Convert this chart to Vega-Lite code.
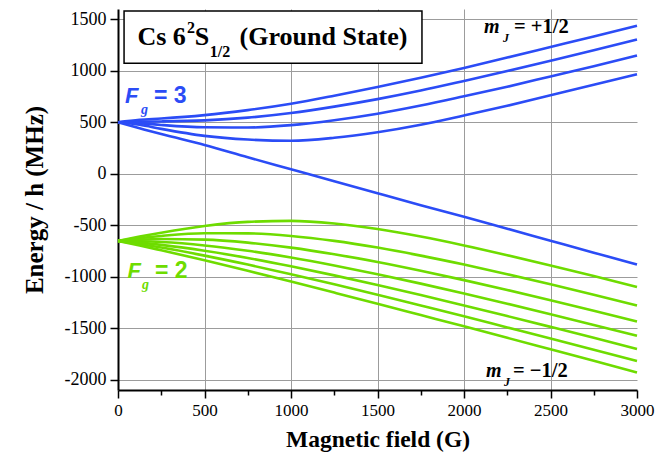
{
  "$schema": "https://vega.github.io/schema/vega-lite/v6.json",
  "width": 519,
  "height": 381,
  "autosize": "none",
  "padding": {"left": 118, "top": 9, "right": 34, "bottom": 70},
  "background": "white",
  "config": {"view": {"stroke": null}, "font": "Liberation Serif"},
  "layer": [
    {
      "data": {"values": [
        {"s":"u1","grp":"up","B":0,"E":500},{"s":"u1","grp":"up","B":125,"E":524},{"s":"u1","grp":"up","B":250,"E":536},{"s":"u1","grp":"up","B":500,"E":569},{"s":"u1","grp":"up","B":750,"E":618},{"s":"u1","grp":"up","B":1000,"E":680},{"s":"u1","grp":"up","B":1250,"E":758},{"s":"u1","grp":"up","B":1500,"E":842},{"s":"u1","grp":"up","B":1750,"E":933},{"s":"u1","grp":"up","B":2000,"E":1028},{"s":"u1","grp":"up","B":2250,"E":1128},{"s":"u1","grp":"up","B":2500,"E":1231},{"s":"u1","grp":"up","B":2750,"E":1334},{"s":"u1","grp":"up","B":3000,"E":1438},
        {"s":"u2","grp":"up","B":0,"E":500},{"s":"u2","grp":"up","B":125,"E":506},{"s":"u2","grp":"up","B":250,"E":508},{"s":"u2","grp":"up","B":500,"E":518},{"s":"u2","grp":"up","B":750,"E":545},{"s":"u2","grp":"up","B":1000,"E":590},{"s":"u2","grp":"up","B":1250,"E":652},{"s":"u2","grp":"up","B":1500,"E":725},{"s":"u2","grp":"up","B":1750,"E":808},{"s":"u2","grp":"up","B":2000,"E":901},{"s":"u2","grp":"up","B":2250,"E":997},{"s":"u2","grp":"up","B":2500,"E":1098},{"s":"u2","grp":"up","B":2750,"E":1200},{"s":"u2","grp":"up","B":3000,"E":1304},
        {"s":"u3","grp":"up","B":0,"E":500},{"s":"u3","grp":"up","B":125,"E":492},{"s":"u3","grp":"up","B":250,"E":474},{"s":"u3","grp":"up","B":500,"E":451},{"s":"u3","grp":"up","B":750,"E":449},{"s":"u3","grp":"up","B":1000,"E":472},{"s":"u3","grp":"up","B":1250,"E":520},{"s":"u3","grp":"up","B":1500,"E":583},{"s":"u3","grp":"up","B":1750,"E":662},{"s":"u3","grp":"up","B":2000,"E":752},{"s":"u3","grp":"up","B":2250,"E":845},{"s":"u3","grp":"up","B":2500,"E":945},{"s":"u3","grp":"up","B":2750,"E":1045},{"s":"u3","grp":"up","B":3000,"E":1149},
        {"s":"u4","grp":"up","B":0,"E":500},{"s":"u4","grp":"up","B":125,"E":476},{"s":"u4","grp":"up","B":250,"E":436},{"s":"u4","grp":"up","B":500,"E":368},{"s":"u4","grp":"up","B":750,"E":332},{"s":"u4","grp":"up","B":1000,"E":320},{"s":"u4","grp":"up","B":1250,"E":349},{"s":"u4","grp":"up","B":1500,"E":403},{"s":"u4","grp":"up","B":1750,"E":476},{"s":"u4","grp":"up","B":2000,"E":566},{"s":"u4","grp":"up","B":2250,"E":660},{"s":"u4","grp":"up","B":2500,"E":762},{"s":"u4","grp":"up","B":2750,"E":864},{"s":"u4","grp":"up","B":3000,"E":967},
        {"s":"u5","grp":"up","B":0,"E":500},{"s":"u5","grp":"up","B":125,"E":442},{"s":"u5","grp":"up","B":250,"E":385},{"s":"u5","grp":"up","B":500,"E":280},{"s":"u5","grp":"up","B":750,"E":160},{"s":"u5","grp":"up","B":1000,"E":44},{"s":"u5","grp":"up","B":1250,"E":-72},{"s":"u5","grp":"up","B":1500,"E":-189},{"s":"u5","grp":"up","B":1750,"E":-305},{"s":"u5","grp":"up","B":2000,"E":-418},{"s":"u5","grp":"up","B":2250,"E":-534},{"s":"u5","grp":"up","B":2500,"E":-650},{"s":"u5","grp":"up","B":2750,"E":-766},{"s":"u5","grp":"up","B":3000,"E":-881},
        {"s":"g1","grp":"low","B":0,"E":-652},{"s":"g1","grp":"low","B":125,"E":-610},{"s":"g1","grp":"low","B":250,"E":-572},{"s":"g1","grp":"low","B":500,"E":-507},{"s":"g1","grp":"low","B":750,"E":-467},{"s":"g1","grp":"low","B":1000,"E":-458},{"s":"g1","grp":"low","B":1250,"E":-483},{"s":"g1","grp":"low","B":1500,"E":-537},{"s":"g1","grp":"low","B":1750,"E":-610},{"s":"g1","grp":"low","B":2000,"E":-696},{"s":"g1","grp":"low","B":2250,"E":-791},{"s":"g1","grp":"low","B":2500,"E":-891},{"s":"g1","grp":"low","B":2750,"E":-994},{"s":"g1","grp":"low","B":3000,"E":-1100},
        {"s":"g2","grp":"low","B":0,"E":-652},{"s":"g2","grp":"low","B":125,"E":-625},{"s":"g2","grp":"low","B":250,"E":-604},{"s":"g2","grp":"low","B":500,"E":-578},{"s":"g2","grp":"low","B":750,"E":-579},{"s":"g2","grp":"low","B":1000,"E":-604},{"s":"g2","grp":"low","B":1250,"E":-652},{"s":"g2","grp":"low","B":1500,"E":-717},{"s":"g2","grp":"low","B":1750,"E":-795},{"s":"g2","grp":"low","B":2000,"E":-882},{"s":"g2","grp":"low","B":2250,"E":-976},{"s":"g2","grp":"low","B":2500,"E":-1074},{"s":"g2","grp":"low","B":2750,"E":-1175},{"s":"g2","grp":"low","B":3000,"E":-1279},
        {"s":"g3","grp":"low","B":0,"E":-652},{"s":"g3","grp":"low","B":125,"E":-640},{"s":"g3","grp":"low","B":250,"E":-634},{"s":"g3","grp":"low","B":500,"E":-640},{"s":"g3","grp":"low","B":750,"E":-669},{"s":"g3","grp":"low","B":1000,"E":-717},{"s":"g3","grp":"low","B":1250,"E":-781},{"s":"g3","grp":"low","B":1500,"E":-857},{"s":"g3","grp":"low","B":1750,"E":-942},{"s":"g3","grp":"low","B":2000,"E":-1033},{"s":"g3","grp":"low","B":2250,"E":-1129},{"s":"g3","grp":"low","B":2500,"E":-1228},{"s":"g3","grp":"low","B":2750,"E":-1330},{"s":"g3","grp":"low","B":3000,"E":-1434},
        {"s":"g4","grp":"low","B":0,"E":-652},{"s":"g4","grp":"low","B":125,"E":-655},{"s":"g4","grp":"low","B":250,"E":-663},{"s":"g4","grp":"low","B":500,"E":-696},{"s":"g4","grp":"low","B":750,"E":-748},{"s":"g4","grp":"low","B":1000,"E":-814},{"s":"g4","grp":"low","B":1250,"E":-891},{"s":"g4","grp":"low","B":1500,"E":-976},{"s":"g4","grp":"low","B":1750,"E":-1067},{"s":"g4","grp":"low","B":2000,"E":-1163},{"s":"g4","grp":"low","B":2250,"E":-1262},{"s":"g4","grp":"low","B":2500,"E":-1364},{"s":"g4","grp":"low","B":2750,"E":-1468},{"s":"g4","grp":"low","B":3000,"E":-1574},
        {"s":"g5","grp":"low","B":0,"E":-652},{"s":"g5","grp":"low","B":125,"E":-669},{"s":"g5","grp":"low","B":250,"E":-691},{"s":"g5","grp":"low","B":500,"E":-748},{"s":"g5","grp":"low","B":750,"E":-818},{"s":"g5","grp":"low","B":1000,"E":-899},{"s":"g5","grp":"low","B":1250,"E":-987},{"s":"g5","grp":"low","B":1500,"E":-1080},{"s":"g5","grp":"low","B":1750,"E":-1178},{"s":"g5","grp":"low","B":2000,"E":-1279},{"s":"g5","grp":"low","B":2250,"E":-1382},{"s":"g5","grp":"low","B":2500,"E":-1487},{"s":"g5","grp":"low","B":2750,"E":-1593},{"s":"g5","grp":"low","B":3000,"E":-1701},
        {"s":"g6","grp":"low","B":0,"E":-652},{"s":"g6","grp":"low","B":125,"E":-683},{"s":"g6","grp":"low","B":250,"E":-717},{"s":"g6","grp":"low","B":500,"E":-795},{"s":"g6","grp":"low","B":750,"E":-882},{"s":"g6","grp":"low","B":1000,"E":-976},{"s":"g6","grp":"low","B":1250,"E":-1074},{"s":"g6","grp":"low","B":1500,"E":-1175},{"s":"g6","grp":"low","B":1750,"E":-1279},{"s":"g6","grp":"low","B":2000,"E":-1384},{"s":"g6","grp":"low","B":2250,"E":-1492},{"s":"g6","grp":"low","B":2500,"E":-1600},{"s":"g6","grp":"low","B":2750,"E":-1709},{"s":"g6","grp":"low","B":3000,"E":-1819},
        {"s":"g7","grp":"low","B":0,"E":-652},{"s":"g7","grp":"low","B":125,"E":-696},{"s":"g7","grp":"low","B":250,"E":-743},{"s":"g7","grp":"low","B":500,"E":-840},{"s":"g7","grp":"low","B":750,"E":-942},{"s":"g7","grp":"low","B":1000,"E":-1047},{"s":"g7","grp":"low","B":1250,"E":-1154},{"s":"g7","grp":"low","B":1500,"E":-1262},{"s":"g7","grp":"low","B":1750,"E":-1372},{"s":"g7","grp":"low","B":2000,"E":-1482},{"s":"g7","grp":"low","B":2250,"E":-1593},{"s":"g7","grp":"low","B":2500,"E":-1705},{"s":"g7","grp":"low","B":2750,"E":-1817},{"s":"g7","grp":"low","B":3000,"E":-1930}
      ]},
      "mark": {"type": "line", "strokeWidth": 2.6, "interpolate": "monotone"},
      "encoding": {
        "x": {"field": "B", "type": "quantitative",
          "scale": {"domain": [0, 3000], "nice": false, "zero": false},
          "axis": {
            "values": [0,250,500,750,1000,1250,1500,1750,2000,2250,2500,2750,3000],
            "title": "Magnetic field (G)",
            "titleFont": "Liberation Serif", "titleFontSize": 23.5, "titleFontWeight": "bold", "titleColor": "black", "titlePadding": 9,
            "labelFont": "Liberation Serif", "labelFontSize": 17, "labelColor": "black", "labelPadding": 4,
            "labelExpr": "datum.value % 500 == 0 ? '' + datum.value : ''",
            "labelOverlap": false, "labelFlush": false,
            "domainColor": "black", "domainWidth": 2,
            "tickColor": "black", "tickWidth": 1.5,
            "tickSize": {"condition": {"test": "datum.value % 500 != 0", "value": 5}, "value": 8},
            "grid": true, "gridColor": "#9c9c9c", "gridWidth": 1,
            "gridOpacity": {"condition": {"test": "datum.value % 500 != 0 || datum.value == 0 || datum.value == 3000", "value": 0}, "value": 1}
          }
        },
        "y": {"field": "E", "type": "quantitative",
          "scale": {"domain": [-2100, 1600], "nice": false, "zero": false},
          "axis": {
            "values": [-2000,-1750,-1500,-1250,-1000,-750,-500,-250,0,250,500,750,1000,1250,1500],
            "title": "Energy / h (MHz)",
            "titleFont": "Liberation Serif", "titleFontSize": 25, "titleFontWeight": "bold", "titleColor": "black", "titlePadding": 17,
            "labelFont": "Liberation Serif", "labelFontSize": 18, "labelColor": "black", "labelPadding": 4,
            "labelExpr": "datum.value % 500 == 0 ? '' + datum.value : ''",
            "labelOverlap": false, "labelFlush": false,
            "domainColor": "black", "domainWidth": 2,
            "tickColor": "black", "tickWidth": 1.5,
            "tickSize": {"condition": {"test": "datum.value % 500 != 0", "value": 5}, "value": 8},
            "grid": true, "gridColor": "#9c9c9c", "gridWidth": 1,
            "gridOpacity": {"condition": {"test": "datum.value % 500 != 0", "value": 0}, "value": 1}
          }
        },
        "color": {"field": "grp", "type": "nominal", "scale": {"domain": ["up", "low"], "range": ["#2b4cf6", "#6edc00"]}, "legend": null},
        "detail": {"field": "s"}
      }
    },
    {
      "data": {"values": [{"x1": 35, "x2": 1757, "y1": 1580, "y2": 1073}]},
      "mark": {"type": "rect", "fill": "white", "stroke": "black", "strokeWidth": 1.5},
      "encoding": {
        "x": {"field": "x1", "type": "quantitative"}, "x2": {"field": "x2"},
        "y": {"field": "y1", "type": "quantitative"}, "y2": {"field": "y2"}
      }
    },
    {
      "data": {"values": [
        {"t": "Cs 6", "x": 112, "y": 1250},
        {"t": "S", "x": 443, "y": 1250},
        {"t": "(Ground State)", "x": 703, "y": 1250}
      ]},
      "mark": {"type": "text", "font": "Liberation Serif", "fontSize": 26, "fontWeight": "bold", "align": "left", "baseline": "alphabetic", "color": "black"},
      "encoding": {"x": {"field": "x", "type": "quantitative"}, "y": {"field": "y", "type": "quantitative"}, "text": {"field": "t"}}
    },
    {
      "data": {"values": [
        {"t": "2", "x": 399, "y": 1367},
        {"t": "1/2", "x": 530, "y": 1134}
      ]},
      "mark": {"type": "text", "font": "Liberation Serif", "fontSize": 16, "fontWeight": "bold", "align": "left", "baseline": "alphabetic", "color": "black"},
      "encoding": {"x": {"field": "x", "type": "quantitative"}, "y": {"field": "y", "type": "quantitative"}, "text": {"field": "t"}}
    },
    {
      "data": {"values": [
        {"t": "F", "x": 40, "y": 687, "grp": "up"},
        {"t": "F", "x": 55, "y": -1012, "grp": "low"}
      ]},
      "mark": {"type": "text", "font": "Liberation Sans", "fontSize": 22, "fontWeight": "bold", "fontStyle": "italic", "align": "left", "baseline": "alphabetic"},
      "encoding": {"x": {"field": "x", "type": "quantitative"}, "y": {"field": "y", "type": "quantitative"}, "text": {"field": "t"},
        "color": {"field": "grp", "type": "nominal", "scale": {"domain": ["up", "low"], "range": ["#2b4cf6", "#6edc00"]}, "legend": null}}
    },
    {
      "data": {"values": [
        {"t": "g", "x": 133, "y": 580, "grp": "up"},
        {"t": "g", "x": 139, "y": -1119, "grp": "low"}
      ]},
      "mark": {"type": "text", "font": "Liberation Serif", "fontSize": 14, "fontWeight": "bold", "fontStyle": "italic", "align": "left", "baseline": "alphabetic"},
      "encoding": {"x": {"field": "x", "type": "quantitative"}, "y": {"field": "y", "type": "quantitative"}, "text": {"field": "t"},
        "color": {"field": "grp", "type": "nominal", "scale": {"domain": ["up", "low"], "range": ["#2b4cf6", "#6edc00"]}, "legend": null}}
    },
    {
      "data": {"values": [
        {"t": "= 3", "x": 208, "y": 687, "grp": "up"},
        {"t": "= 2", "x": 214, "y": -1012, "grp": "low"}
      ]},
      "mark": {"type": "text", "font": "Liberation Sans", "fontSize": 23, "fontWeight": "bold", "align": "left", "baseline": "alphabetic"},
      "encoding": {"x": {"field": "x", "type": "quantitative"}, "y": {"field": "y", "type": "quantitative"}, "text": {"field": "t"},
        "color": {"field": "grp", "type": "nominal", "scale": {"domain": ["up", "low"], "range": ["#2b4cf6", "#6edc00"]}, "legend": null}}
    },
    {
      "data": {"values": [
        {"t": "m", "x": 2115, "y": 1367},
        {"t": "m", "x": 2127, "y": -1974}
      ]},
      "mark": {"type": "text", "font": "Liberation Serif", "fontSize": 20, "fontWeight": "bold", "fontStyle": "italic", "align": "left", "baseline": "alphabetic", "color": "black"},
      "encoding": {"x": {"field": "x", "type": "quantitative"}, "y": {"field": "y", "type": "quantitative"}, "text": {"field": "t"}}
    },
    {
      "data": {"values": [
        {"t": "J", "x": 2225, "y": 1280},
        {"t": "J", "x": 2231, "y": -2061}
      ]},
      "mark": {"type": "text", "font": "Liberation Serif", "fontSize": 12, "fontWeight": "bold", "fontStyle": "italic", "align": "left", "baseline": "alphabetic", "color": "black"},
      "encoding": {"x": {"field": "x", "type": "quantitative"}, "y": {"field": "y", "type": "quantitative"}, "text": {"field": "t"}}
    },
    {
      "data": {"values": [
        {"t": "= +1/2", "x": 2289, "y": 1367},
        {"t": "= −1/2", "x": 2283, "y": -1974}
      ]},
      "mark": {"type": "text", "font": "Liberation Serif", "fontSize": 20.5, "fontWeight": "bold", "align": "left", "baseline": "alphabetic", "color": "black"},
      "encoding": {"x": {"field": "x", "type": "quantitative"}, "y": {"field": "y", "type": "quantitative"}, "text": {"field": "t"}}
    }
  ]
}
